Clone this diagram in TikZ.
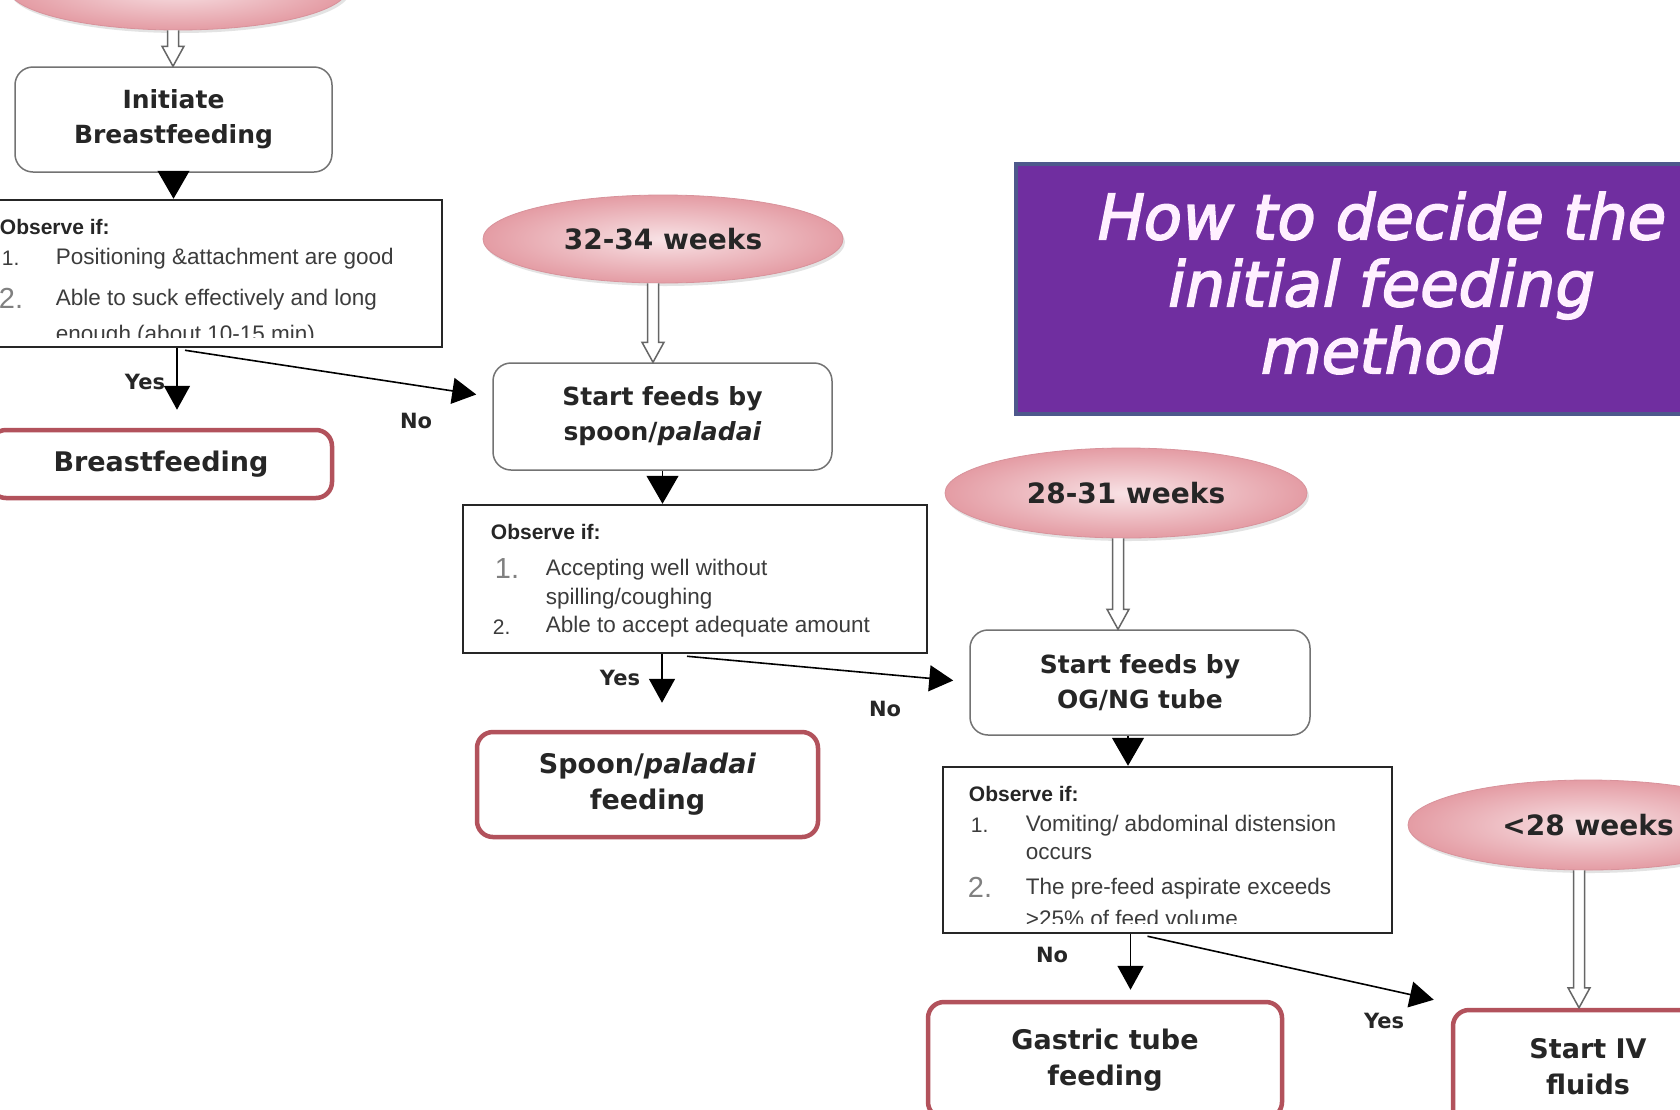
\documentclass[tikz,border=0pt]{standalone}
\usepackage{fontspec}
\setmainfont{DejaVu Sans}
\newfontfamily\arialf{Liberation Sans}
\newfontfamily\titlef{DejaVu Sans}[FakeSlant=0.2, FakeBold=2.5]
\usetikzlibrary{shapes.geometric,arrows.meta,calc,shadows}
\definecolor{pinkin}{RGB}{248,226,229}
\definecolor{pinkout}{RGB}{228,156,164}
\definecolor{pinkline}{RGB}{216,146,155}
\definecolor{redb}{RGB}{178,82,92}
\definecolor{purp}{RGB}{112,46,160}
\definecolor{purpb}{RGB}{78,88,140}
\definecolor{titletxt}{RGB}{255,240,255}
\definecolor{itemtxt}{RGB}{60,60,60}
\newcommand{\hollowarr}[3]{%
  \draw[hollow] let \p1=($(#2.south)+(#1,0)$), \p2=(#3.north) in
  (\x1-5.5pt,\y1) -- (\x1-5.5pt,\y2+20pt) -- (\x1-11pt,\y2+20pt) -- (\x1,\y2)
  -- (\x1+11pt,\y2+20pt) -- (\x1+5.5pt,\y2+20pt) -- (\x1+5.5pt,\y1);}
\begin{document}
\begin{tikzpicture}[x=1pt,y=-1pt,
  ell/.style={ellipse, inner sep=0pt, inner color=pinkin, outer color=pinkout, draw=pinkline, line width=0.8pt,
    font=\bfseries\fontsize{28}{32}\selectfont, text=black!85,
    drop shadow={opacity=0.22, shadow xshift=2pt, shadow yshift=-3pt}},
  wbox/.style={rectangle, rounded corners=18pt, draw=black!55, line width=1.5pt, fill=white, align=center,
    inner sep=0pt, font=\bfseries\fontsize{25}{35}\selectfont, text=black!85},
  rbox/.style={rectangle, rounded corners=16pt, draw=redb, line width=4.5pt, fill=white, align=center,
    inner sep=0pt, font=\bfseries\fontsize{27}{36}\selectfont, text=black!85},
  obox/.style={rectangle, draw=black!85, line width=2.5pt, fill=white, inner sep=0pt},
  obsh/.style={anchor=west, inner sep=0pt, font=\arialf\bfseries\fontsize{21}{24}\selectfont, text=black!85},
  itm/.style={anchor=west, inner sep=0pt, font=\arialf\fontsize{22.5}{26}\selectfont, text=itemtxt},
  numsm/.style={anchor=west, inner sep=0pt, font=\arialf\fontsize{21}{24}\selectfont, text=itemtxt},
  numbg/.style={anchor=west, inner sep=0pt, font=\arialf\fontsize{29}{32}\selectfont, text=gray},
  lbl/.style={inner sep=0pt, font=\bfseries\fontsize{21}{24}\selectfont, text=black!85},
  hollow/.style={draw=black!60, line width=1.5pt, fill=white, line join=miter},
  blk/.style={line width=1.2pt, -{Triangle[length=28pt,width=32pt]}},
  yn/.style={line width=1.6pt, -{Triangle[length=24pt,width=26pt]}}
]
\useasboundingbox (0,0) rectangle (1680,1109);
\clip (0,0) rectangle (1680,1109);
\fill[white] (0,0) rectangle (1680,1109);

% ellipses
\node[ell, minimum width=340pt, minimum height=84pt] (e0) at (178,-12) {};
\node[ell, minimum width=360pt, minimum height=88pt] (e32) at (663,239) {32-34 weeks};
\node[ell, minimum width=362pt, minimum height=90pt] (e28) at (1126,493) {28-31 weeks};
\node[ell, minimum width=360pt, minimum height=90pt] (e27) at (1588,825) {<28 weeks};

% title
\node[fill=purp, draw=purpb, line width=4pt, minimum width=732pt, minimum height=250pt, inner sep=0pt] (title) at (1382,289) {};
\node[text=titletxt, font=\titlef\fontsize{62.5}{67}\selectfont, align=center, inner sep=0pt] (titlet) at ($(title.center)+(-4,-6)$) {How to decide the\\initial feeding\\method};

% white boxes
\node[wbox, minimum width=317pt, minimum height=105pt] (ib) at (173.5,119.5) {Initiate\\Breastfeeding};
\node[wbox, minimum width=339pt, minimum height=107pt] (sp) at (662.5,416.5) {Start feeds by\\spoon/\textit{paladai}};
\node[wbox, minimum width=340pt, minimum height=105pt] (og) at (1140,682.5) {Start feeds by\\OG/NG tube};

% result boxes
\node[rbox, minimum width=342pt, minimum height=68pt] (bf) at (161,464) {Breastfeeding};
\node[rbox, minimum width=341pt, minimum height=105pt] (sf) at (647.5,784.5) {Spoon/\textit{paladai}\\feeding};
\node[rbox, minimum width=354pt, minimum height=116pt] (gt) at (1105,1060) {Gastric tube\\feeding};
\node[rbox, minimum width=270pt, minimum height=114pt] (iv) at (1588,1067) {Start IV\\fluids};

% observation boxes
\node[obox, minimum width=470pt, minimum height=147pt] (obs1) at (207,273.5) {};
\node[obox, minimum width=464pt, minimum height=148pt] (obs2) at (695,579) {};
\node[obox, minimum width=449pt, minimum height=166pt] (obs3) at (1167.5,850) {};

\begin{scope}
\clip (obs1.north west) rectangle ($(obs1.south east)+(0,-11)$);
\node[obsh] (o1h) at ($(obs1.north west)+(29,28)$) {Observe if:};
\node[numsm] (o1n1) at ($(obs1.north west)+(31,60)$) {1.};
\node[itm] (o1i1) at ($(obs1.north west)+(85,60)$) {Positioning \&attachment are good};
\node[numbg] (o1n2) at ($(obs1.north west)+(28,100)$) {2.};
\node[itm] (o1i2) at ($(obs1.north west)+(85,101)$) {Able to suck effectively and long};
\node[itm] (o1i3) at ($(obs1.north west)+(85,137)$) {enough (about 10-15 min)};
\end{scope}

\begin{scope}
\clip (obs2.north west) rectangle ($(obs2.south east)+(0,-3)$);
\node[obsh] (o2h) at ($(obs2.north west)+(29,28)$) {Observe if:};
\node[numbg] (o2n1) at ($(obs2.north west)+(33,65)$) {1.};
\node[itm] (o2i1) at ($(obs2.north west)+(84,66)$) {Accepting well without};
\node[itm] (o2i2) at ($(obs2.north west)+(84,95)$) {spilling/coughing};
\node[numsm] (o2n2) at ($(obs2.north west)+(31,123)$) {2.};
\node[itm] (o2i3) at ($(obs2.north west)+(84,123)$) {Able to accept adequate amount};
\end{scope}

\begin{scope}
\clip (obs3.north west) rectangle ($(obs3.south east)+(0,-11)$);
\node[obsh] (o3h) at ($(obs3.north west)+(27,28)$) {Observe if:};
\node[numsm] (o3n1) at ($(obs3.north west)+(29,60)$) {1.};
\node[itm] (o3i1) at ($(obs3.north west)+(84,60)$) {Vomiting/ abdominal distension};
\node[itm] (o3i2) at ($(obs3.north west)+(84,88)$) {occurs};
\node[numbg] (o3n2) at ($(obs3.north west)+(26,122)$) {2.};
\node[itm] (o3i3) at ($(obs3.north west)+(84,123)$) {The pre-feed aspirate exceeds};
\node[itm] (o3i4) at ($(obs3.north west)+(84,153)$) {>25\% of feed volume};
\end{scope}

% hollow arrows
\hollowarr{-5}{e0}{ib}
\hollowarr{-10}{e32}{sp}
\hollowarr{-8}{e28}{og}
\hollowarr{-9}{e27}{iv}

% black arrows
\draw[blk] (ib.south) -- (ib.south |- obs1.north);
\coordinate (y1s) at ($(obs1.south)+(-30,0)$);
\draw[yn, shorten >=18pt] (y1s) -- (y1s |- bf.north);
\coordinate (n1s) at ($(obs1.south)+(-22,2)$);
\coordinate (n1e) at ($(sp.west)+(-16,-22)$);
\draw[yn] (n1s) -- (n1e);

\draw[blk] (sp.south) -- (sp.south |- obs2.north);
\coordinate (y2s) at ($(obs2.south)+(-33,0)$);
\draw[yn, shorten >=27pt] (y2s) -- (y2s |- sf.north);
\coordinate (n2s) at ($(obs2.south)+(-8,2)$);
\coordinate (n2e) at ($(og.west)+(-16,-2)$);
\draw[yn] (n2s) -- (n2e);

\coordinate (t3) at ($(og.south)+(-12,0)$);
\draw[blk] (t3) -- (t3 |- obs3.north);
\coordinate (n3s) at ($(obs3.south)+(-37,0)$);
\draw[yn, shorten >=10pt] (n3s) -- (n3s |- gt.north);
\coordinate (y3s) at ($(obs3.south)+(-20,2)$);
\coordinate (y3e) at ($(iv.north west)+(-17,-8)$);
\draw[yn] (y3s) -- (y3e);

% labels
\node[lbl] (yes1) at (145,382) {Yes};
\node[lbl] (no1) at (416,421) {No};
\node[lbl] (yes2) at (620,678) {Yes};
\node[lbl] (no2) at (885,709) {No};
\node[lbl] (no3) at (1052,955) {No};
\node[lbl] (yes3) at (1384,1021) {Yes};
\end{tikzpicture}
\end{document}
